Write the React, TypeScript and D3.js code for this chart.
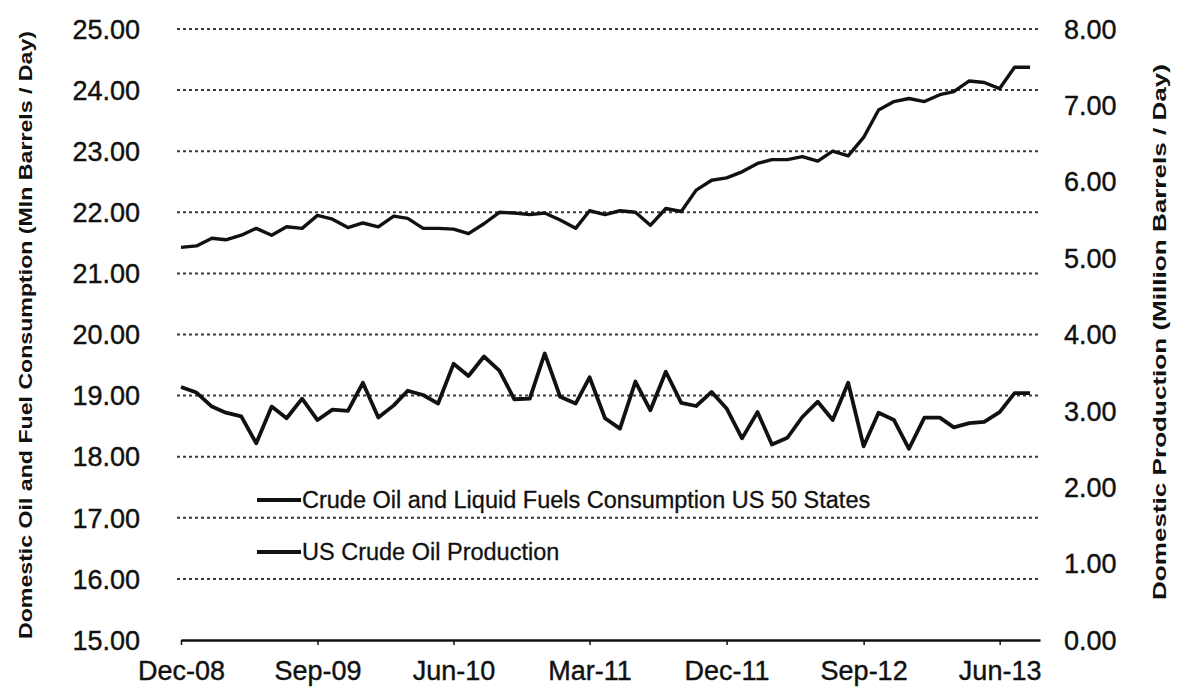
import { useEffect, useRef } from 'react';
import * as d3 from 'd3';

const width = 1182;
const height = 688;
const [plotLeft, plotRight, plotTop, plotBottom] = [181, 1040, 29, 640];

const months = [
    'Dec-08',
    'Jan-09', 'Feb-09', 'Mar-09', 'Apr-09', 'May-09', 'Jun-09', 'Jul-09', 'Aug-09', 'Sep-09', 'Oct-09', 'Nov-09', 'Dec-09',
    'Jan-10', 'Feb-10', 'Mar-10', 'Apr-10', 'May-10', 'Jun-10', 'Jul-10', 'Aug-10', 'Sep-10', 'Oct-10', 'Nov-10', 'Dec-10',
    'Jan-11', 'Feb-11', 'Mar-11', 'Apr-11', 'May-11', 'Jun-11', 'Jul-11', 'Aug-11', 'Sep-11', 'Oct-11', 'Nov-11', 'Dec-11',
    'Jan-12', 'Feb-12', 'Mar-12', 'Apr-12', 'May-12', 'Jun-12', 'Jul-12', 'Aug-12', 'Sep-12', 'Oct-12', 'Nov-12', 'Dec-12',
    'Jan-13', 'Feb-13', 'Mar-13', 'Apr-13', 'May-13', 'Jun-13', 'Jul-13', 'Aug-13'
];

// left axis, mln barrels / day
const consumption = [
    19.14, 19.05, 18.82, 18.72, 18.66, 18.22, 18.82, 18.63, 18.95, 18.6, 18.77, 18.75, 19.21,
    18.64, 18.84, 19.08, 19.01, 18.87, 19.52, 19.32, 19.64, 19.41, 18.94, 18.95, 19.69,
    18.98, 18.87, 19.3, 18.63, 18.46, 19.23, 18.76, 19.39, 18.88, 18.83, 19.06, 18.79,
    18.3, 18.73, 18.2, 18.31, 18.65, 18.9, 18.6, 19.21, 18.17, 18.72, 18.6, 18.13,
    18.64, 18.64, 18.48, 18.55, 18.57, 18.73, 19.04, 19.04
];

// right axis, million barrels / day
const production = [
    5.14, 5.16, 5.26, 5.24, 5.3, 5.39, 5.3, 5.41, 5.39, 5.56, 5.51, 5.4, 5.46,
    5.41, 5.55, 5.52, 5.39, 5.39, 5.38, 5.32, 5.45, 5.6, 5.59, 5.57, 5.59,
    5.5, 5.39, 5.62, 5.57, 5.62, 5.6, 5.43, 5.65, 5.61, 5.89, 6.02, 6.05,
    6.13, 6.24, 6.29, 6.29, 6.33, 6.27, 6.4, 6.34, 6.58, 6.94, 7.05, 7.09,
    7.05, 7.14, 7.18, 7.32, 7.3, 7.22, 7.5, 7.5
];

const xTickLabels = ['Dec-08', 'Sep-09', 'Jun-10', 'Mar-11', 'Dec-11', 'Sep-12', 'Jun-13'];
const leftTicks = [15, 16, 17, 18, 19, 20, 21, 22, 23, 24, 25];
const rightTicks = [0, 1, 2, 3, 4, 5, 6, 7, 8];

const seriesNames = ['Crude Oil and Liquid Fuels Consumption US 50 States', 'US Crude Oil Production'];

const font = '"Liberation Sans", Arial, sans-serif';
const ink = '#111';

export default function App() {
    const ref = useRef<SVGSVGElement>(null);

    useEffect(() => {
        const svg = d3.select(ref.current);
        svg.selectAll('*').remove();

        const parse = d3.timeParse('%b-%y');
        const dates = months.map((m) => parse(m) as Date);

        const x = d3
            .scaleTime()
            .domain([dates[0], d3.timeDay.offset(dates[dates.length - 1], 20)])
            .range([plotLeft, plotRight]);
        const yLeft = d3.scaleLinear().domain([15, 25]).range([plotBottom, plotTop]);
        const yRight = d3.scaleLinear().domain([0, 8]).range([plotBottom, plotTop]);

        // dotted gridlines
        svg.append('g')
            .selectAll('line')
            .data(leftTicks.slice(1))
            .join('line')
            .attr('x1', plotLeft - 4)
            .attr('x2', plotRight)
            .attr('y1', (d) => yLeft(d))
            .attr('y2', (d) => yLeft(d))
            .attr('stroke', '#3a3a3a')
            .attr('stroke-width', 2)
            .attr('stroke-dasharray', '3,3');

        // left labels
        svg.append('g')
            .selectAll('text')
            .data(leftTicks)
            .join('text')
            .attr('x', 140)
            .attr('y', (d) => yLeft(d))
            .attr('dy', '0.36em')
            .attr('text-anchor', 'end')
            .style('font', `27px ${font}`)
            .attr('fill', ink)
            .attr('stroke', ink)
            .attr('stroke-width', 0.4)
            .text((d) => d3.format('.2f')(d));

        // right labels
        svg.append('g')
            .selectAll('text')
            .data(rightTicks)
            .join('text')
            .attr('x', 1064)
            .attr('y', (d) => yRight(d))
            .attr('dy', '0.36em')
            .attr('text-anchor', 'start')
            .style('font', `27px ${font}`)
            .attr('fill', ink)
            .attr('stroke', ink)
            .attr('stroke-width', 0.4)
            .text((d) => d3.format('.2f')(d));

        // x axis
        const tickDates = xTickLabels.map((m) => parse(m) as Date);
        const xAxis = svg
            .append('g')
            .attr('transform', `translate(0,${plotBottom})`)
            .call(
                d3
                    .axisBottom(x)
                    .tickValues(tickDates)
                    .tickFormat((_d, i) => xTickLabels[i])
                    .tickSizeInner(5)
                    .tickSizeOuter(0)
                    .tickPadding(16)
            );
        xAxis.select('.domain').attr('stroke', ink).attr('stroke-width', 2.5);
        xAxis.selectAll('.tick line').attr('stroke', ink).attr('stroke-width', 1.5);
        xAxis
            .selectAll('.tick text')
            .style('font', `27px ${font}`)
            .attr('fill', ink)
            .attr('stroke', ink)
            .attr('stroke-width', 0.4);

        // lines
        const lineLeft = d3
            .line<number>()
            .x((_d, i) => x(dates[i]))
            .y((d) => yLeft(d));
        const lineRight = d3
            .line<number>()
            .x((_d, i) => x(dates[i]))
            .y((d) => yRight(d));

        svg.append('path')
            .attr('d', lineLeft(consumption))
            .attr('fill', 'none')
            .attr('stroke', ink)
            .attr('stroke-width', 3.8)
            .attr('stroke-linejoin', 'round');
        svg.append('path')
            .attr('d', lineRight(production))
            .attr('fill', 'none')
            .attr('stroke', ink)
            .attr('stroke-width', 3.4)
            .attr('stroke-linejoin', 'round');

        // legend
        const legend = svg
            .append('g')
            .selectAll('g')
            .data(seriesNames)
            .join('g')
            .attr('transform', (_d, i) => `translate(257,${500 + i * 52})`);
        legend.append('line').attr('x1', 0).attr('x2', 44).attr('stroke', ink).attr('stroke-width', 3.8);
        legend
            .append('text')
            .attr('x', 45)
            .attr('dy', '0.36em')
            .style('font', `23.5px ${font}`)
            .attr('fill', ink)
            .attr('stroke', ink)
            .attr('stroke-width', 0.3)
            .text((d) => d);

        // axis titles
        svg.append('text')
            .attr('transform', 'translate(25,335) rotate(-90)')
            .attr('text-anchor', 'middle')
            .attr('dy', '0.36em')
            .style('font', `bold 19px ${font}`)
            .attr('fill', ink)
            .attr('textLength', 608)
            .attr('lengthAdjust', 'spacingAndGlyphs')
            .text('Domestic Oil and Fuel Consumption (Mln Barrels / Day)');
        svg.append('text')
            .attr('transform', 'translate(1160,332) rotate(-90)')
            .attr('text-anchor', 'middle')
            .attr('dy', '0.36em')
            .style('font', `bold 18px ${font}`)
            .attr('fill', ink)
            .attr('textLength', 536)
            .attr('lengthAdjust', 'spacingAndGlyphs')
            .text('Domestic Production (Million Barrels / Day)');
    }, []);

    return (
        <svg
            ref={ref}
            width={width}
            height={height}
            style={{ position: 'absolute', left: 0, top: 0, background: '#fff' }}
        />
    );
}
